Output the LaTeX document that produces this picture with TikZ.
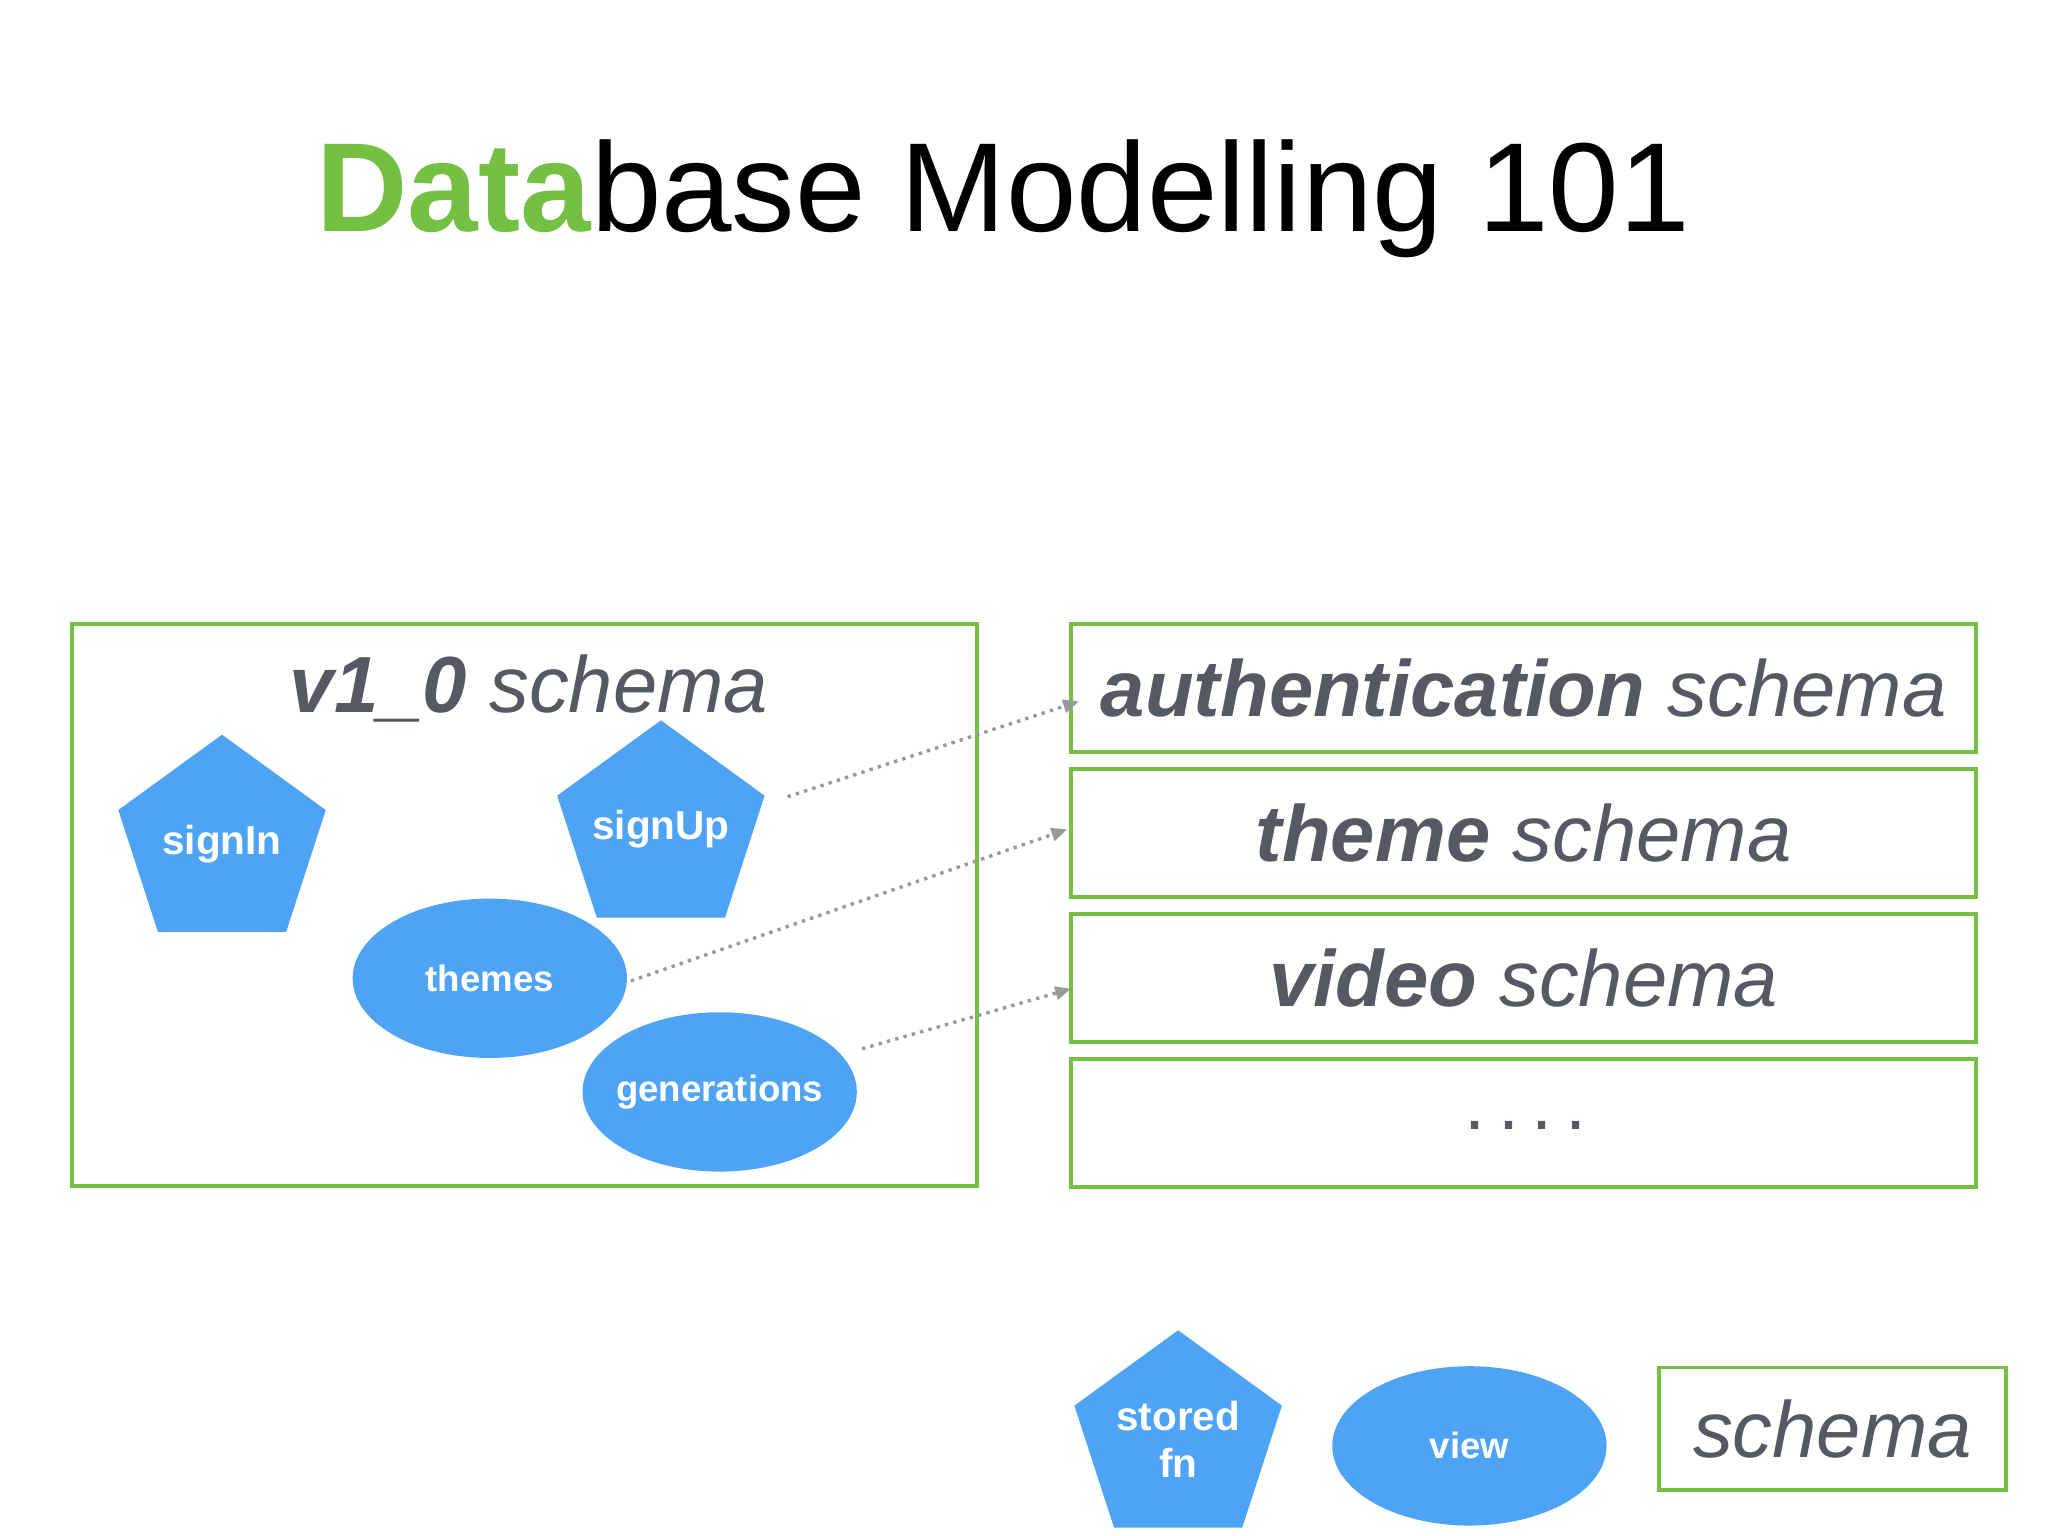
\documentclass[tikz,border=0pt]{standalone}
\usepackage{fontspec}
\setmainfont{Liberation Sans}
\usetikzlibrary{shapes.geometric,arrows.meta}
\definecolor{grn}{HTML}{73C043}
\definecolor{blu}{HTML}{4FA3F5}
\definecolor{txt}{HTML}{555A62}
\begin{document}
\begin{tikzpicture}[x=0.5pt,y=-0.5pt,
  box/.style={draw=grn,line width=1.5pt,inner sep=0},
  pent/.style={regular polygon,regular polygon sides=5,fill=blu,inner sep=0,minimum size=83.5pt,text=white,font=\fontsize{15.5}{18}\selectfont\bfseries,align=center},
  ell/.style={ellipse,fill=blu,inner sep=0,minimum width=105pt,minimum height=61pt,text=white,font=\fontsize{14}{16}\selectfont\bfseries},
  head/.style={text=txt,font=\fontsize{30.5}{33}\selectfont\itshape},
  dot/.style={draw=gray!80,line width=1.3pt,dotted,-{Triangle[length=6pt,width=5pt]}}]
\useasboundingbox (0,0) rectangle (1568,1176);
\node[font=\fontsize{48.5}{52}\selectfont] (title) at (768,152) {\textcolor{grn}{\bfseries Data}base Modelling 101};
\node[box,minimum width=346.5pt,minimum height=215pt] (v1) at (401.5,693) {};
\node[head] (v1t) at (405,527) {\textbf{v1\_0} schema};
\node[box,minimum width=346.5pt,minimum height=49pt] (auth) at (1166.5,527) {};
\node[head] at (auth) {\textbf{authentication} schema};
\node[box,minimum width=346.5pt,minimum height=49pt] (theme) at (1166.5,638) {};
\node[head] at (theme) {\textbf{theme} schema};
\node[box,minimum width=346.5pt,minimum height=49pt] (video) at (1166.5,749) {};
\node[head] at (video) {\textbf{video} schema};
\node[box,minimum width=346.5pt,minimum height=49pt] (more) at (1166.5,860) {};
\node[text=txt,font=\fontsize{29}{32}\selectfont] at (1168,862) {.\,.\,.\,.};
\node[pent] (signin) at (170,646) {\makebox[0pt]{signIn}};
\node[pent] (signup) at (506,635) {\makebox[0pt]{signUp}};
\node[ell] (themes) at (375,749) {\makebox[0pt]{themes}};
\node[ell] (gens) at (551,836) {\makebox[0pt]{generations}};
\node[pent] (stored) at (902,1102) {stored\\fn};
\node[ell] (view) at (1125,1107) {\makebox[0pt]{view}};
\node[box,minimum width=133pt,minimum height=47pt] (sch) at (1403,1094) {};
\node[head] at (sch) {schema};
\coordinate (a1) at (603,610); \coordinate (b1) at (826,537);
\coordinate (a2) at (483,751); \coordinate (b2) at (817,635);
\coordinate (a3) at (660,803); \coordinate (b3) at (820,757);
\draw[dot] (a1) -- (b1);
\draw[dot] (a2) -- (b2);
\draw[dot] (a3) -- (b3);
\end{tikzpicture}
\end{document}
